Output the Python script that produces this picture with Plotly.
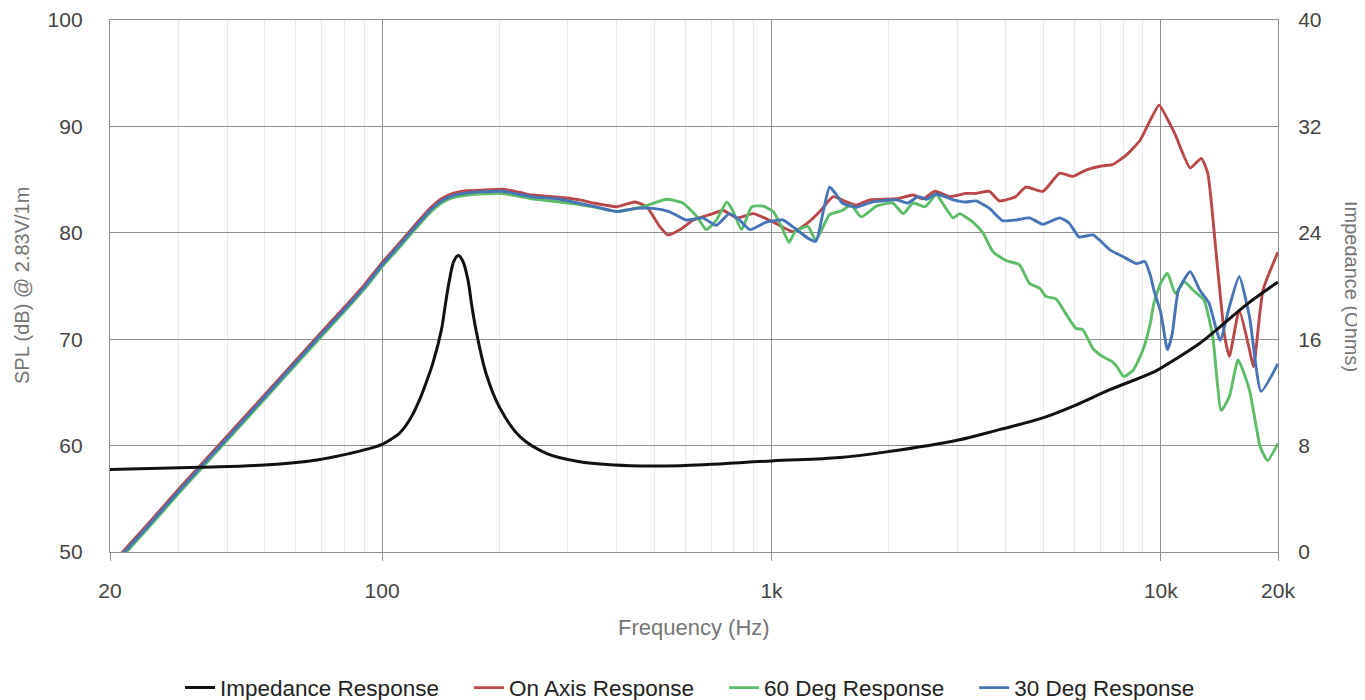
import plotly.graph_objects as go

# ---------------- data ----------------
imp_freq = [20, 34, 50, 68, 83, 92, 100, 105, 111, 118, 125, 130, 135, 142, 145, 149, 153,
            157, 161, 166, 170, 175, 185, 200, 226, 264, 322, 434, 583, 1000, 1500, 2000,
            3000, 3850, 5000, 6000, 7400, 9700, 10500, 12600, 13900, 16600, 20000]
imp_ohm = [6.2, 6.37, 6.54, 6.92, 7.42, 7.75, 8.1, 8.45, 8.95, 10.0, 11.5, 12.8, 14.2, 16.7,
           18.4, 20.5, 21.9, 22.3, 21.9, 20.5, 18.5, 16.4, 13.4, 10.9, 8.67, 7.42, 6.79,
           6.49, 6.49, 6.85, 7.1, 7.55, 8.4, 9.2, 10.1, 11.0, 12.2, 13.6, 14.2, 15.7, 16.7,
           18.6, 20.3]

on_freq = [20, 25, 30, 40, 50, 60, 70, 80, 90, 100, 110, 120, 132, 142, 152, 165, 178, 204,
           226, 242, 293, 322, 348, 375, 400, 446, 478, 516, 542, 583, 630, 694, 752, 814,
           898, 1012, 1140, 1236, 1331, 1440, 1560, 1650, 1790, 2100, 2310, 2450, 2630,
           2870, 3160, 3350, 3630, 3850, 4240, 4500, 4980, 5500, 5940, 6430, 7100, 7500,
           8150, 8850, 9400, 9900, 10500, 10900, 11900, 12700, 13200, 13900, 14600, 15000,
           15900, 16900, 17300, 18300, 20000]
on_spl = [48.7, 52.6, 55.9, 60.9, 64.8, 68.0, 70.7, 73.0, 75.1, 77.2, 78.9, 80.5, 82.2,
          83.2, 83.7, 83.95, 84.0, 84.1, 83.8, 83.55, 83.3, 83.1, 82.8, 82.6, 82.45, 82.9,
          82.45, 80.6, 79.8, 80.3, 81.2, 81.7, 82.1, 81.4, 81.8, 81.0, 80.1, 80.9, 82.0,
          83.4, 82.9, 82.6, 83.1, 83.2, 83.55, 83.2, 83.9, 83.4, 83.7, 83.7, 83.9, 83.0,
          83.4, 84.3, 83.9, 85.6, 85.3, 85.9, 86.3, 86.4, 87.3, 88.7, 90.6, 92.0, 90.4,
          89.2, 86.1, 87.0, 85.6, 77.75, 70.2, 68.4, 72.7, 69.0, 67.4, 74.6, 78.2]

d60_freq = [20, 25, 30, 40, 50, 60, 70, 80, 90, 100, 110, 120, 132, 142, 152, 165, 178, 204,
            226, 242, 286, 348, 400, 468, 538, 592, 644, 680, 722, 768, 795, 838, 890, 952,
            1010, 1060, 1110, 1150, 1240, 1300, 1410, 1520, 1600, 1700, 1860, 2050, 2180,
            2310, 2480, 2650, 2750, 2930, 3040, 3290, 3500, 3710, 4000, 4330, 4600, 4880,
            5080, 5380, 5700, 6060, 6300, 6700, 7100, 7500, 7720, 8040, 8500, 9000, 9400,
            9600, 10000, 10400, 10900, 11500, 12100, 12900, 13600, 14300, 15000, 15800,
            16900, 18000, 18800, 20000]
d60_spl = [48.3, 52.2, 55.5, 60.5, 64.4, 67.6, 70.3, 72.6, 74.7, 76.8, 78.5, 80.1, 81.8,
           82.8, 83.3, 83.55, 83.65, 83.7, 83.4, 83.2, 82.9, 82.45, 82.0, 82.45, 83.15, 82.8,
           81.5, 80.3, 81.2, 82.9, 82.1, 80.3, 82.45, 82.5, 82.0, 80.6, 79.1, 80.1, 80.6,
           79.3, 81.7, 82.1, 82.6, 81.5, 82.5, 82.8, 81.8, 82.8, 82.45, 83.6, 82.8, 81.4,
           81.8, 81.0, 79.95, 78.2, 77.4, 77.0, 75.25, 74.8, 74.0, 73.8, 72.4, 71.0, 70.9,
           69.1, 68.35, 67.9, 67.4, 66.5, 67.1, 69.0, 71.5, 73.4, 75.3, 76.2, 74.3, 75.4,
           74.6, 73.7, 70.2, 63.3, 64.6, 68.05, 65.2, 59.9, 58.6, 60.2]

d30_freq = [20, 25, 30, 40, 50, 60, 70, 80, 90, 100, 110, 120, 132, 142, 152, 165, 178, 204,
            226, 242, 286, 348, 400, 450, 496, 546, 604, 666, 722, 780, 828, 880, 970, 1070,
            1150, 1240, 1300, 1360, 1410, 1470, 1520, 1650, 1820, 2100, 2240, 2380, 2500,
            2650, 2930, 3160, 3350, 3630, 3920, 4240, 4600, 4980, 5500, 5820, 6170, 6700,
            7400, 8150, 8660, 9100, 9400, 9600, 10000, 10400, 10700, 11100, 11900, 12600,
            13300, 14200, 15000, 15900, 16900, 18100, 20000]
d30_spl = [48.5, 52.4, 55.7, 60.7, 64.6, 67.8, 70.5, 72.8, 74.9, 77.0, 78.7, 80.3, 82.0,
           83.0, 83.5, 83.75, 83.85, 83.9, 83.6, 83.4, 83.15, 82.5, 82.0, 82.3, 82.3, 82.0,
           81.2, 81.4, 80.7, 81.8, 81.2, 80.3, 81.0, 81.2, 80.4, 79.5, 79.2, 82.1, 84.3,
           83.55, 82.8, 82.4, 82.9, 83.1, 82.8, 83.4, 83.15, 83.65, 83.1, 82.9, 83.0, 82.3,
           81.15, 81.2, 81.4, 80.8, 81.4, 80.9, 79.6, 79.8, 78.4, 77.6, 77.1, 77.3, 76.0,
           74.6, 72.5, 69.0, 70.5, 74.6, 76.35, 74.6, 73.4, 69.9, 73.05, 75.9, 72.1, 65.1,
           67.7]

series_names = ["Impedance Response", "On Axis Response", "60 Deg Response", "30 Deg Response"]
x_tickvals = [20, 100, 1000, 10000, 20000]
x_ticktext = ["20", "100", "1k", "10k", "20k"]
x_minor = [30, 40, 50, 60, 70, 80, 90, 200, 300, 400, 500, 600, 700, 800, 900,
           2000, 3000, 4000, 5000, 6000, 7000, 8000, 9000]
spl_ticks = [50, 60, 70, 80, 90, 100]
imp_ticks = [0, 8, 16, 24, 32, 40]

# ---------------- figure ----------------
FONT = "Liberation Sans, Arial, sans-serif"
GRID = "#8f8f8f"
PAD = "\u00a0" * 4   # spacing after legend entries


def legend_name(i):
    return series_names[i] + (PAD if i < len(series_names) - 1 else "")


fig = go.Figure()
fig.add_trace(go.Scatter(x=imp_freq, y=imp_ohm, name=legend_name(0), yaxis="y2",
                         mode="lines", line=dict(color="#111111", width=3, shape="spline", smoothing=1.0)))
fig.add_trace(go.Scatter(x=on_freq, y=on_spl, name=legend_name(1), mode="lines",
                         line=dict(color="#b9484a", width=2.9, shape="spline", smoothing=0.5)))
fig.add_trace(go.Scatter(x=d60_freq, y=d60_spl, name=legend_name(2), mode="lines",
                         line=dict(color="#5cbc68", width=2.9, shape="spline", smoothing=0.5)))
fig.add_trace(go.Scatter(x=d30_freq, y=d30_spl, name=legend_name(3), mode="lines",
                         line=dict(color="#4674b6", width=2.9, shape="spline", smoothing=0.5)))

fig.update_layout(
    width=1365, height=700,
    margin=dict(l=102, r=95, t=12, b=156),
    paper_bgcolor="white", plot_bgcolor="white",
    font=dict(family=FONT, size=21, color="#444444"),
    showlegend=True,
    legend=dict(orientation="h", x=0.4966, xanchor="center",
                yref="container", y=0.0286, yanchor="middle",
                font=dict(size=22.5, color="#222222"), itemwidth=30),
    xaxis=dict(type="log", range=[1.30103, 4.30103], tickmode="array",
               tickvals=x_tickvals, ticktext=x_ticktext, automargin=False,
               ticks="outside", ticklen=8, tickcolor=GRID, tickwidth=1.3,
               ticklabelstandoff=12,
               showgrid=True, gridcolor=GRID, gridwidth=1.3,
               showline=True, linecolor=GRID, linewidth=1.3, mirror=True,
               zeroline=False,
               minor=dict(tickmode="array", tickvals=x_minor, showgrid=True,
                          gridcolor="#e9e9e9", gridwidth=1.3, ticks=""),
               tickfont=dict(size=21, color="#444444")),
    yaxis=dict(range=[50, 100], tickmode="array", tickvals=spl_ticks, automargin=False,
               showgrid=True, gridcolor=GRID, gridwidth=1.3,
               showline=True, linecolor=GRID, linewidth=1.3, mirror=True,
               zeroline=False, ticks="outside", ticklen=22, tickcolor="rgba(0,0,0,0)",
               tickfont=dict(size=21, color="#444444")),
    yaxis2=dict(range=[0, 40], tickmode="array", tickvals=imp_ticks, overlaying="y",
                side="right", showgrid=False, zeroline=False, automargin=False,
                ticks="outside", ticklen=15, tickcolor="rgba(0,0,0,0)",
                tickfont=dict(size=21, color="#444444")),
    annotations=[
        dict(text="Frequency (Hz)", xref="paper", yref="paper", x=0.5, y=-0.141,
             showarrow=False, font=dict(size=22, color="#757575"), yanchor="middle"),
        dict(text="SPL (dB) @ 2.83V/1m", xref="paper", yref="paper", x=-0.0753, y=0.5,
             textangle=-90, showarrow=False, font=dict(size=20, color="#757575"),
             xanchor="center", yanchor="middle"),
        dict(text="Impedance (Ohms)", xref="paper", yref="paper", x=1.0634, y=0.5,
             textangle=90, showarrow=False, font=dict(size=20, color="#757575"),
             xanchor="center", yanchor="middle"),
    ],
)

fig.write_html("out.html")
